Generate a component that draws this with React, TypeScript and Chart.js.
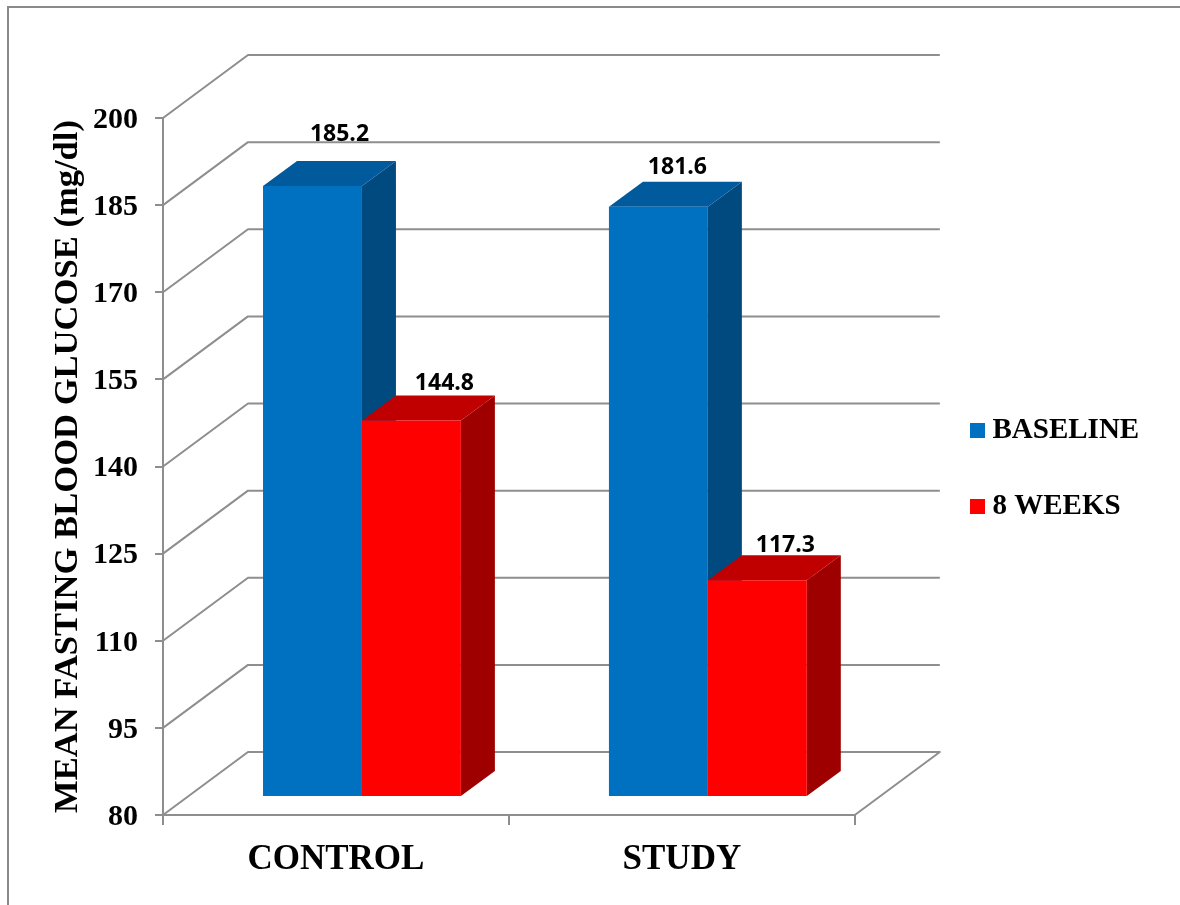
import React, { useEffect, useRef } from "react";
import { Chart, registerables } from "chart.js";

Chart.register(...registerables);

const categories = ["CONTROL", "STUDY"];
const baselineValues = [185.2, 181.6];
const weekEightValues = [144.8, 117.3];
const seriesNames = ["BASELINE", "8 WEEKS"];
const yMin = 80;
const yMax = 200;
const yStep = 15;

const serif = "'Liberation Serif', serif";
const gridGray = "#8e8e8e";

// Colours of each column's three visible faces, one entry per series.
const frontColors = ["#0070c0", "#ff0000"];
const topColors = ["#005a9b", "#c00000"];
const sideColors = ["#004a80", "#9e0000"];

// Projection of the chart box: wall depth, bar inset from the front plane, bar depth.
const wallDepth = { x: 85, y: -63 };
const barInset = { x: 26, y: -18 };
const barDepth = { x: 34, y: -25 };

// Per-bar nudges for the value captions, by series then category.
const captionNudges = [
  [{ x: 27, y: -45 }, { x: 19, y: -33 }],
  [{ x: 33, y: -31 }, { x: 28, y: -28 }],
];

function polygon(ctx: CanvasRenderingContext2D, pts: number[][], color: string) {
  ctx.fillStyle = color;
  ctx.beginPath();
  pts.forEach(([x, y], i) => (i ? ctx.lineTo(x, y) : ctx.moveTo(x, y)));
  ctx.closePath();
  ctx.fill();
}

function legendSwatch(color: string) {
  const c = document.createElement("canvas");
  c.width = 15;
  c.height = 15;
  const g = c.getContext("2d")!;
  g.fillStyle = color;
  g.fillRect(0, 0, 15, 15);
  return c;
}

// Frame, walls and floor, then the top and side faces of every column.
const boxPlugin = {
  id: "box3d",
  afterLayout(chart: any) {
    const legend = chart.legend;
    const shiftX = 977 - (legend.left + legend.options.labels.padding);
    legend.left += shiftX;
    legend.right += shiftX;
    legend.top -= 43;
    legend.bottom -= 43;
  },
  beforeDatasetsDraw(chart: any) {
    const { ctx, scales, chartArea } = chart;
    const y = scales.y;
    ctx.save();
    ctx.strokeStyle = "#8a8a8a";
    ctx.lineWidth = 2;
    ctx.beginPath();
    ctx.moveTo(8, chart.height);
    ctx.lineTo(8, 7);
    ctx.lineTo(chart.width, 7);
    ctx.stroke();

    ctx.strokeStyle = gridGray;
    ctx.lineWidth = 2;
    ctx.lineJoin = "round";
    for (let v = yMin; v <= yMax; v += yStep) {
      const py = y.getPixelForValue(v);
      ctx.beginPath();
      ctx.moveTo(chartArea.left, py);
      ctx.lineTo(chartArea.left + wallDepth.x, py + wallDepth.y);
      ctx.lineTo(chartArea.right + wallDepth.x, py + wallDepth.y);
      if (v === yMin) ctx.lineTo(chartArea.right, py);
      ctx.stroke();
    }

    chart.data.datasets.forEach((_: unknown, di: number) => {
      chart.getDatasetMeta(di).data.forEach((bar: any) => {
        const l = bar.x - bar.width / 2 + barInset.x;
        const r = bar.x + bar.width / 2 + barInset.x;
        const t = bar.y + barInset.y;
        const b = bar.base + barInset.y;
        const dx = barDepth.x;
        const dy = barDepth.y;
        polygon(ctx, [[r, t], [r + dx, t + dy], [r + dx, b + dy], [r, b]], sideColors[di]);
        polygon(ctx, [[l, t], [l + dx, t + dy], [r + dx, t + dy], [r, t]], topColors[di]);
      });
    });
    ctx.restore();
  },
  beforeDatasetDraw(chart: any) {
    chart.ctx.save();
    chart.ctx.translate(barInset.x, barInset.y);
  },
  afterDatasetDraw(chart: any) {
    chart.ctx.restore();
  },
  afterDatasetsDraw(chart: any) {
    const { ctx } = chart;
    ctx.save();
    ctx.fillStyle = "#000";
    ctx.font = "700 23px 'Open Sans', sans-serif";
    ctx.textAlign = "center";
    ctx.textBaseline = "alphabetic";
    chart.data.datasets.forEach((ds: any, di: number) => {
      chart.getDatasetMeta(di).data.forEach((bar: any, i: number) => {
        const n = captionNudges[di][i];
        ctx.fillText(
          ds.data[i].toFixed(1),
          bar.x + barInset.x + n.x,
          bar.y + barInset.y + n.y
        );
      });
    });
    ctx.restore();
  },
};

export default function App() {
  const ref = useRef<HTMLCanvasElement>(null);
  useEffect(() => {
    const chart = new Chart(ref.current!, {
      type: "bar",
      data: {
        labels: categories,
        datasets: [
          { label: seriesNames[0], data: baselineValues, base: yMin, backgroundColor: frontColors[0] },
          { label: seriesNames[1], data: weekEightValues, base: yMin, backgroundColor: frontColors[1] },
        ],
      },
      plugins: [boxPlugin],
      options: {
        responsive: false,
        animation: false,
        layout: { padding: { top: 118, right: 106 } },
        datasets: { bar: { barPercentage: 1, categoryPercentage: 0.572 } },
        plugins: {
          tooltip: { enabled: false },
          legend: {
            position: "right",
            labels: {
              color: "#000",
              font: { family: serif, size: 29, weight: "bold" },
              padding: 47,
              usePointStyle: true,
              pointStyleWidth: 1,
              boxHeight: 15,
              generateLabels(c: any) {
                return Chart.defaults.plugins.legend.labels
                  .generateLabels(c)
                  .map((item: any, i: number) => ({
                    ...item,
                    pointStyle: legendSwatch(frontColors[i]),
                  }));
              },
            },
          },
        },
        scales: {
          x: {
            afterFit(s: any) {
              s.height = 90;
            },
            grid: { drawOnChartArea: false, color: gridGray, tickLength: 10, lineWidth: 2 },
            border: { color: gridGray, width: 2 },
            ticks: {
              color: "#000",
              padding: 14,
              font: { family: serif, size: 35, weight: "bold" },
            },
          },
          y: {
            min: yMin,
            max: yMax,
            afterFit(s: any) {
              s.width = 163;
            },
            grid: { drawOnChartArea: false, color: gridGray, tickLength: 8, lineWidth: 2 },
            border: { color: gridGray, width: 2 },
            ticks: {
              stepSize: yStep,
              color: "#000",
              padding: 17,
              labelOffset: 2,
              font: { family: serif, size: 30, weight: "bold" },
            },
            title: {
              display: true,
              text: "MEAN FASTING BLOOD GLUCOSE (mg/dl)",
              color: "#000",
              padding: { top: 47, bottom: 0 },
              font: { family: serif, size: 34.6, weight: "bold" },
            },
          },
        },
      },
    } as any);
    return () => chart.destroy();
  }, []);
  return (
    <div style={{ position: "absolute", left: 0, top: 0, width: 1180, height: 905, background: "#fff" }}>
      <canvas ref={ref} width={1180} height={905} style={{ display: "block" }} />
    </div>
  );
}
